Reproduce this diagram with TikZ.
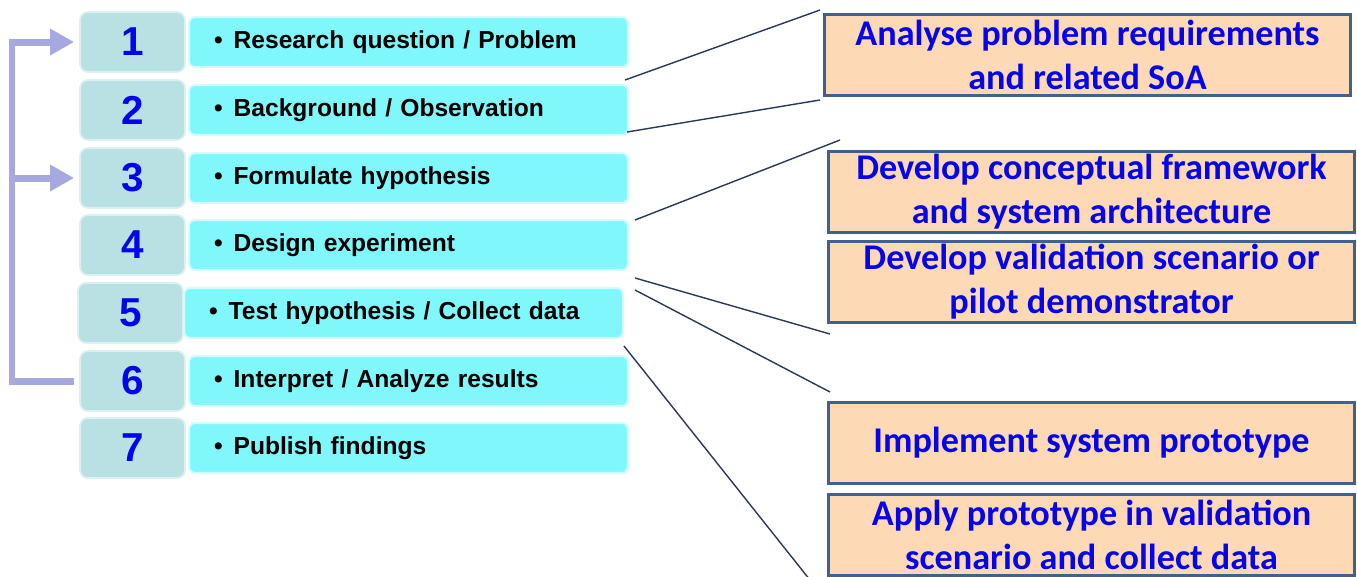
\documentclass[tikz,border=0pt]{standalone}
\usepackage{fontspec}
\setmainfont{Liberation Sans}
\newfontfamily\calib{Carlito}
\usetikzlibrary{arrows.meta, calc}
\definecolor{myteal}{RGB}{185,225,228}
\definecolor{mycyan}{RGB}{128,247,250}
\definecolor{mypeach}{RGB}{253,217,181}
\definecolor{myframe}{RGB}{64,96,142}
\definecolor{mylink}{RGB}{40,58,88}
\definecolor{mylilac}{RGB}{168,168,224}
\definecolor{myblue}{RGB}{5,5,235}
\tikzstyle{num} = [draw=myteal!50!white, line width=1, fill=myteal,
    rounded corners=0.16cm, minimum width=2.1cm, minimum height=1.2cm,
    inner sep=0, text=myblue, font=\fontsize{23}{23}\selectfont\bfseries]
\tikzstyle{bar} = [draw=mycyan!35!white, line width=1.2, fill=mycyan,
    rounded corners=0.12cm, minimum height=1cm, inner xsep=0.5cm,
    text width=7.78cm, align=left, anchor=west,
    font=\fontsize{14}{16}\selectfont\bfseries]
\tikzstyle{task} = [draw=myframe, line width=1.7, fill=mypeach,
    minimum width=10.54cm, minimum height=1.62cm, inner sep=0,
    align=center, text=myblue,
    font=\fontsize{20.6}{25}\selectfont\calib\bfseries]
\tikzstyle{feedback} = [draw=mylilac, line width=0.14cm, line join=miter,
    -{Triangle[length=0.48cm, width=0.5cm]}]
\tikzstyle{link} = [draw=mylink, line width=0.8]

\begin{document}
\begin{tikzpicture}[x=0.02cm, y=-0.02cm]
\useasboundingbox (0,0) rectangle (1357,576);

%%% steps
\node[num] (n1) at (132.5,42) {1};
\node[num] (n2) at (132.5,110) {2};
\node[num] (n3) at (132.5,178) {3};
\node[num] (n4) at (132.5,245) {4};
\node[num] (n5) at (130.5,313) {5};
\node[num] (n6) at (132.5,381) {6};
\node[num] (n7) at (132.5,448) {7};

\node[bar] (b1) at (188,42) {\textbullet\hspace{0.22cm}Research question / Problem};
\node[bar] (b2) at (188,110) {\textbullet\hspace{0.22cm}Background / Observation};
\node[bar] (b3) at (188,178) {\textbullet\hspace{0.22cm}Formulate hypothesis};
\node[bar] (b4) at (188,245) {\textbullet\hspace{0.22cm}Design experiment};
\node[bar] (b5) at (183,313) {\textbullet\hspace{0.22cm}Test hypothesis / Collect data};
\node[bar] (b6) at (188,381) {\textbullet\hspace{0.22cm}Interpret / Analyze results};
\node[bar] (b7) at (188,448) {\textbullet\hspace{0.22cm}Publish findings};

%%% loop back
\coordinate (turn) at (12,381);
\coordinate (split) at (12,178);
\draw[feedback] ($(n6.west)+(-5,0)$) -- (turn) |- ($(n1.west)+(-5,0)$);
\draw[feedback] (split) -- ($(n3.west)+(-5,0)$);

%%% tasks
\node[task] (analyse) at (1087.5,55) {Analyse problem requirements\\and related SoA};
\node[task] (concept) at (1091.5,192) {Develop conceptual framework\\and system architecture};
\node[task] (valid) at (1091.5,282) {Develop validation scenario or\\pilot demonstrator};
\node[task] (implement) at (1091.5,443) {Implement system prototype};
\node[task] (apply) at (1091.5,535) {Apply prototype in validation\\scenario and collect data};

%%% links
\coordinate (s1) at (625,80);   \coordinate (e1) at (820,10);
\coordinate (s2) at (627,132);  \coordinate (e2) at (820,100);
\coordinate (s3) at (635,220);  \coordinate (e3) at (840,140);
\coordinate (s4) at (635,278);  \coordinate (e4) at (830,334);
\coordinate (s5) at (635,290);  \coordinate (e5) at (830,392);
\coordinate (s6) at (624,346);  \coordinate (e6) at (810,580);
\draw[link] (s1) -- (e1);
\draw[link] (s2) -- (e2);
\draw[link] (s3) -- (e3);
\draw[link] (s4) -- (e4);
\draw[link] (s5) -- (e5);
\draw[link] (s6) -- (e6);

\end{tikzpicture}
\end{document}
